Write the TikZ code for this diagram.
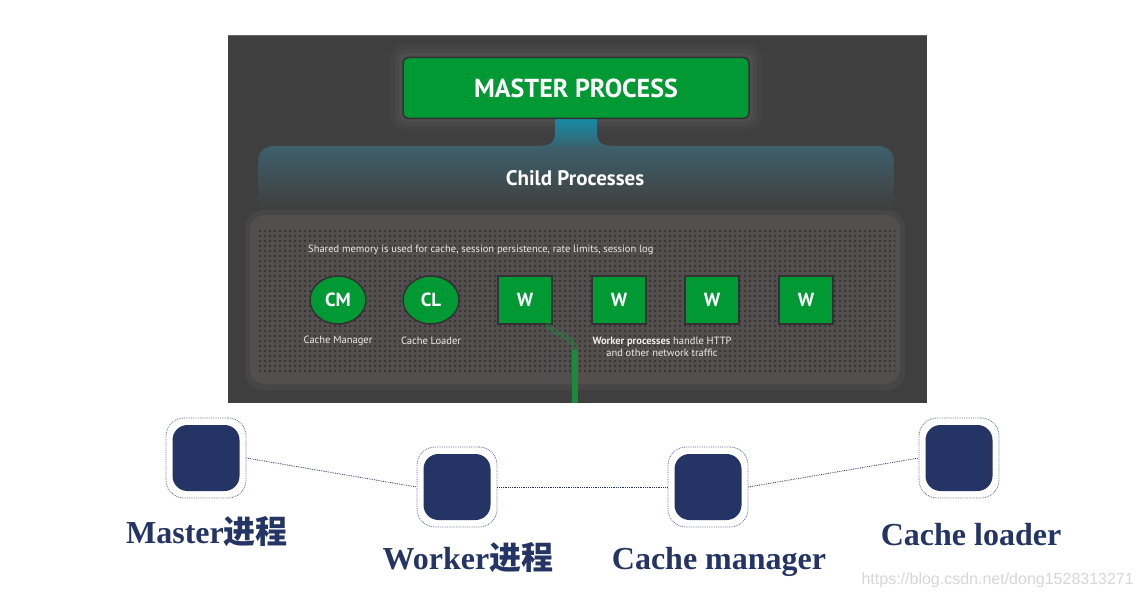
\documentclass[tikz,border=0pt]{standalone}
\usepackage{fontspec}
\setmainfont{Liberation Serif}
\newfontfamily\cjk{Noto Sans CJK SC}
\newfontfamily\ui{PT Sans}
\newfontfamily\wm{Liberation Sans}
\usetikzlibrary{patterns,shapes.geometric}
\definecolor{panelc}{RGB}{63,63,63}
\definecolor{pgreen}{RGB}{0,153,51}
\definecolor{navy}{RGB}{36,52,100}
\definecolor{memc}{RGB}{84,79,79}
\definecolor{memglow}{RGB}{72,69,69}
\definecolor{dotc}{RGB}{46,43,43}
\definecolor{tealA}{RGB}{22,140,168}
\definecolor{tealB}{RGB}{55,100,114}
\definecolor{bandtop}{RGB}{62,96,108}
\definecolor{wgreen}{RGB}{24,140,58}
\definecolor{shapeedge}{RGB}{50,50,50}
\definecolor{wmc}{RGB}{215,215,215}
\pgfdeclarepatternformonly{memdots}{\pgfpoint{-1.5pt}{-1.5pt}}{\pgfpoint{1.5pt}{1.5pt}}{\pgfpoint{5pt}{5pt}}{\pgfpathcircle{\pgfpointorigin}{1.05pt}\pgfusepath{fill}}
\tikzset{
  mproc/.style={draw=shapeedge, line width=1.5pt, fill=pgreen, rounded corners=6pt,
    minimum width=346pt, minimum height=61pt, text=white,
    font=\ui\bfseries\fontsize{26}{30}\selectfont},
  circproc/.style={ellipse, draw=shapeedge, line width=1.5pt, fill=pgreen,
    minimum width=56pt, minimum height=48pt, inner sep=0pt, text=white,
    font=\ui\bfseries\fontsize{19}{21}\selectfont},
  wproc/.style={draw=shapeedge, line width=1.5pt, fill=pgreen,
    minimum width=54pt, minimum height=48pt, inner sep=0pt, text=white,
    font=\ui\bfseries\fontsize{19}{21}\selectfont},
  smalllab/.style={text=white!92!black, font=\ui\fontsize{10.5}{12.5}\selectfont, inner sep=0pt, align=center},
  outerbox/.style={draw=navy!75, line width=0.8pt, densely dotted, fill=white,
    rounded corners=18pt, minimum width=80pt, minimum height=80pt, inner sep=0pt},
  innerbox/.style={fill=navy, rounded corners=15pt, minimum width=67pt, minimum height=66pt, inner sep=0pt},
  conn/.style={draw=navy, line width=0.8pt, densely dotted},
  biglab/.style={text=navy, font=\bfseries\fontsize{32}{36}\selectfont, inner sep=0pt, anchor=base},
}
\begin{document}
\begin{tikzpicture}[x=1pt,y=-1pt]
\useasboundingbox (0,0) rectangle (1141,596);
\fill[white] (0,0) rectangle (1141,596);
% dark panel
\fill[panelc] (228,35) rectangle (927,403);
\draw[gray!60!panelc, line width=1pt] (228,35.5) -- (927,35.5);
% master glow
\fill[rounded corners=14pt, white, opacity=0.025] (390,44) rectangle (762,131);
\fill[rounded corners=11pt, white, opacity=0.03] (395,49) rectangle (757,126);
\fill[rounded corners=9pt, white, opacity=0.035] (399,53) rectangle (753,122);
% stem
\shade[top color=tealA, bottom color=tealB]
  (555,118) -- (555,133) .. controls (555,144) and (549,146) .. (536,146)
  -- (616,146) .. controls (603,146) and (597,144) .. (597,133) -- (597,118) -- cycle;
% child processes band
\shade[top color=bandtop, bottom color=panelc, rounded corners=15pt]
  (258,208) -- (258,146) -- (894,146) -- (894,208);
\node[text=white, font=\ui\bfseries\fontsize{21}{24}\selectfont] (child) at (575,178) {Child Processes};
% master process
\node[mproc] (master) at (576,88) {MASTER PROCESS};
% shared memory panel
\fill[memglow, rounded corners=18pt] (245,210) rectangle (905,390);
\fill[memc, rounded corners=15pt] (250,215) rectangle (900,384);
\fill[pattern=memdots, pattern color=dotc] (256,231) rectangle (895,372);
\node[smalllab, anchor=west] (shared) at (308,250) {Shared memory is used for cache, session persistence, rate limits, session log};
% green link from first worker
\coordinate (gend) at (575,403);
% processes
\node[circproc] (cm) at (338,300) {CM};
\node[circproc] (cl) at (431,300) {CL};
\node[wproc] (w1) at (525,300) {W};
\node[wproc] (w2) at (619,300) {W};
\node[wproc] (w3) at (712,300) {W};
\node[wproc] (w4) at (806,300) {W};
\draw[wgreen, line width=6pt, opacity=0.35] ([xshift=22pt,yshift=1pt]w1.south) .. controls (552,336) and (575,333) .. (575,352);
\draw[wgreen, line width=6pt] (575,350) -- (gend);
\node[smalllab] (cmlab) at (338,341) {Cache Manager};
\node[smalllab] (cllab) at (431,341) {Cache Loader};
\node[smalllab] (wlab) at (662,347) {\textbf{Worker processes} handle HTTP\\and other network traffic};
% bottom legend
\node[outerbox] (m) at (206,458) {};
\node[innerbox] at (m.center) {};
\node[outerbox] (w) at (457,487) {};
\node[innerbox] at (w.center) {};
\node[outerbox] (c) at (708,487) {};
\node[innerbox] at (c.center) {};
\node[outerbox] (l) at (959,458) {};
\node[innerbox] at (l.center) {};
\draw[conn] (m.east) -- (w.west);
\draw[conn] (w.east) -- (c.west);
\draw[conn] (c.east) -- (l.west);
\node[biglab] (mlab) at (207,543) {Master{\cjk\bfseries 进程}};
\node[biglab] (wlabb) at (468,569) {Worker{\cjk\bfseries 进程}};
\node[biglab] (clab) at (719,569) {Cache manager};
\node[biglab] (llab) at (971,545) {Cache loader};
\node[text=wmc, font=\wm\fontsize{16}{19}\selectfont, anchor=base east, inner sep=0pt] (wmark) at (1134,584) {https://blog.csdn.net/dong1528313271};
\end{tikzpicture}
\end{document}
